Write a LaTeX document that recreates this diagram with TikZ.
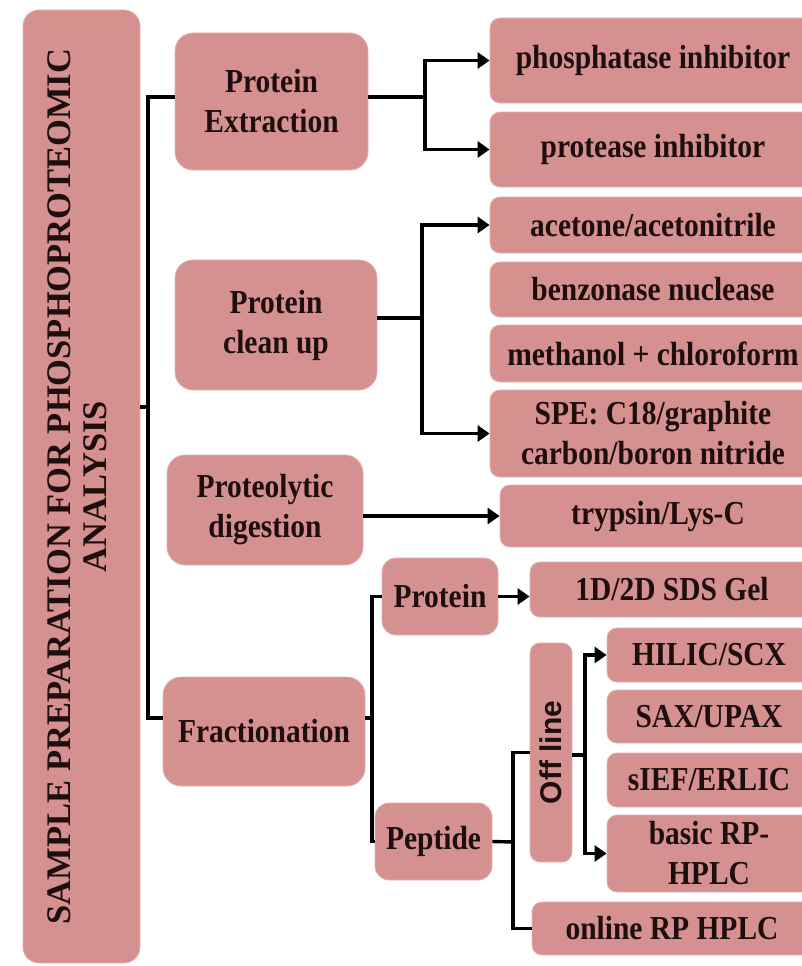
\documentclass[tikz,border=0pt]{standalone}
\usepackage{fontspec}
\setmainfont{Liberation Serif}[FakeStretch=0.88]
\newfontfamily\headfont{Liberation Serif}
\setsansfont{Liberation Sans}
\usetikzlibrary{arrows.meta}
\definecolor{boxpink}{RGB}{213,144,144}
\definecolor{textdark}{RGB}{30,14,14}

\begin{document}
\begin{tikzpicture}[
    x=1pt, y=-1pt,
    headbox/.style={rectangle, fill=boxpink, draw=boxpink!70!white, line width=0.8pt,
                rounded corners=16pt, text=textdark, inner sep=0pt,
                minimum width=117pt, minimum height=953pt},
    stage/.style={rectangle, fill=boxpink, draw=boxpink!70!white, line width=0.8pt,
                rounded corners=18pt, align=center, text=textdark, inner sep=0pt,
                font=\fontsize{33.5}{40}\selectfont\bfseries},
    item/.style={rectangle, fill=boxpink, draw=boxpink!70!white, line width=0.8pt,
                rounded corners=10pt, align=center, text=textdark, inner sep=0pt,
                font=\fontsize{33.5}{40}\selectfont\bfseries},
    link/.style={line width=3.4pt, black},
    arrow/.style={link, -{Triangle[length=12pt,width=16pt]}}
]
\useasboundingbox (0,0) rectangle (802,966);
\clip (0,0) rectangle (802,966);

% Title
\node[headbox] (head) at (81.5,486.5) {\rotatebox{90}{\headfont\fontsize{34.5}{36}\selectfont\bfseries
    \begin{tabular}{@{}c@{}}SAMPLE PREPARATION FOR PHOSPHOPROTEOMIC\\ANALYSIS\end{tabular}}};

% Steps
\node[stage, minimum width=193pt, minimum height=137pt] (extr)   at (271.5,101.5) {Protein\\Extraction};
\node[stage, minimum width=202pt, minimum height=130pt] (clean)  at (276,325)     {Protein\\clean up};
\node[stage, minimum width=196pt, minimum height=110pt] (digest) at (265,510)     {Proteolytic\\digestion};
\node[stage, minimum width=202pt, minimum height=109pt] (fract)  at (264,731.5)   {Fractionation};

% Extraction
\node[item, minimum width=326pt, minimum height=85pt] (phos) at (653,60.5)  {phosphatase inhibitor};
\node[item, minimum width=326pt, minimum height=75pt] (prot) at (653,149.5) {protease inhibitor};

% Clean up
\node[item, minimum width=326pt, minimum height=56pt] (acet) at (653,225)   {acetone/acetonitrile};
\node[item, minimum width=326pt, minimum height=55pt] (benz) at (653,289.5) {benzonase nuclease};
\node[item, minimum width=326pt, minimum height=57pt] (meth) at (653,353.5) {methanol + chloroform};
\node[item, minimum width=326pt, minimum height=87pt] (spe)  at (653,433.5) {SPE: C18/graphite\\carbon/boron nitride};

% Digestion
\node[item, minimum width=316pt, minimum height=62pt] (tryp) at (658,516) {trypsin/Lys-C};

% Fractionation
\node[item, rounded corners=14pt, minimum width=116pt, minimum height=77pt] (prtn) at (440,596.5) {Protein};
\node[item, rounded corners=14pt, minimum width=117pt, minimum height=77pt] (pept) at (433.5,841.5) {Peptide};
\node[item, minimum width=284pt, minimum height=55pt] (sds) at (672,589.5) {1D/2D SDS Gel};
\node[item, minimum width=42pt, minimum height=219pt,
      font=\sffamily\bfseries\fontsize{30}{36}\selectfont] (offl) at (551,752.5) {\rotatebox{90}{Off line}};
\node[item, minimum width=204pt, minimum height=54pt] (hilic) at (709,655)   {HILIC/SCX};
\node[item, minimum width=204pt, minimum height=53pt] (sax)   at (709,716.5) {SAX/UPAX};
\node[item, minimum width=204pt, minimum height=54pt] (sief)  at (709,780)   {sIEF/ERLIC};
\node[item, minimum width=204pt, minimum height=77pt] (basic) at (709,853.5) {basic RP-\\HPLC};
\node[item, minimum width=280pt, minimum height=53pt] (online) at (672,928.5) {online RP HPLC};

% Junctions
\coordinate (trunk)  at (148,407);
\coordinate (extrj)  at (425,97);
\coordinate (cleanj) at (422,318);
\coordinate (fractj) at (372,718);
\coordinate (peptj)  at (513,842);
\coordinate (offj)   at (585,755);

% Main bracket
\draw[link] (head.east |- trunk) -- (trunk);
\draw[link] (extr.west |- extrj) -| (trunk) |- (fract.west |- fractj);

% Extraction / clean up / digestion
\draw[link] (extr.east |- extrj) -- (extrj);
\draw[arrow] (extrj) |- (phos.west);
\draw[arrow] (extrj) |- (prot.west);
\draw[link] (clean.east |- cleanj) -- (cleanj);
\draw[arrow] (cleanj) |- (acet.west);
\draw[arrow] (cleanj) |- (spe.west);
\draw[arrow] (digest.east |- tryp.west) -- (tryp.west);

% Fractionation
\draw[link] (fract.east |- fractj) -- (fractj);
\draw[link] (fractj) |- (prtn.west);
\draw[link] (fractj) |- (pept.west);
\draw[arrow] (prtn.east) -- (sds.west |- prtn.east);
\draw[link] (pept.east) -- (peptj);
\draw[link] (peptj) |- (offl.west);
\draw[link] (peptj) |- (online.west);
\draw[link] (offl.east |- offj) -- (offj);
\draw[arrow] (offj) |- (hilic.west);
\draw[arrow] (offj) |- (basic.west);

\end{tikzpicture}
\end{document}
